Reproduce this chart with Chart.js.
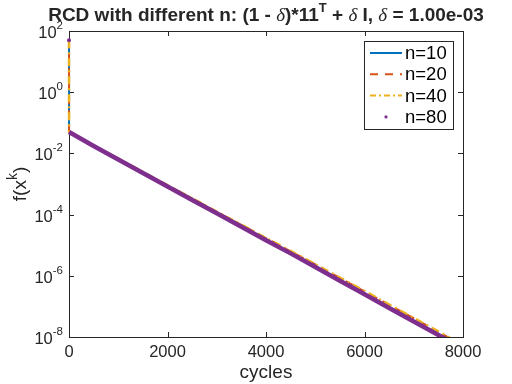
<!DOCTYPE html>
<html>
<head>
<meta charset="utf-8">
<script src="https://cdn.jsdelivr.net/npm/chart.js@4"></script>
<style>
  html, body { margin: 0; padding: 0; background: #fff; }
</style>
</head>
<body>
<canvas id="chart" width="512" height="384"></canvas>
<script>
// cycle positions shared by every run (first point is the starting value)
const cycles = [0, 1, 500, 1000, 1500, 2000, 2500, 3000, 3500, 4000, 4500, 5000, 5500, 6000, 6500, 7000, 7500, 7800];

const n10 = [50, 5.0e-2, 1.72e-2, 6.2e-3, 2.25e-3, 8.1e-4, 2.95e-4, 1.08e-4, 3.9e-5, 1.42e-5, 5.3e-6, 1.92e-6, 6.8e-7, 2.45e-7, 8.8e-8, 3.2e-8, 1.18e-8, 5.8e-9];
const n20 = [50, 5.0e-2, 1.82e-2, 6.8e-3, 2.45e-3, 9.1e-4, 3.4e-4, 1.23e-4, 4.6e-5, 1.7e-5, 6.3e-6, 2.35e-6, 8.5e-7, 3.1e-7, 1.12e-7, 4.1e-8, 1.48e-8, 7.9e-9];
const n40 = [50, 5.0e-2, 1.80e-2, 6.7e-3, 2.5e-3, 9.0e-4, 3.45e-4, 1.25e-4, 4.7e-5, 1.72e-5, 6.5e-6, 2.4e-6, 8.7e-7, 3.2e-7, 1.15e-7, 4.2e-8, 1.52e-8, 8.2e-9];
const n80 = [50, 5.0e-2, 1.74e-2, 6.3e-3, 2.3e-3, 8.3e-4, 3.0e-4, 1.10e-4, 4.0e-5, 1.45e-5, 5.4e-6, 1.95e-6, 6.9e-7, 2.5e-7, 8.9e-8, 3.2e-8, 1.17e-8, 6.3e-9];

const seriesNames = ["n=10", "n=20", "n=40", "n=80"];
const xTicks = [0, 2000, 4000, 6000, 8000];
const yExponents = [2, 0, -2, -4, -6, -8];

const FONT = '"Liberation Sans", Arial, Helvetica, sans-serif';
const SERIF = '"Liberation Serif", "Times New Roman", serif';
const INK = "#262626";
const BLUE = "#0072BD", ORANGE = "#D95319", YELLOW = "#EDB120", PURPLE = "#7E2F8E";

function toPoints(vals) {
  return cycles.map((c, i) => ({ x: c, y: vals[i] }));
}

// draw a run of text pieces [text, font, dy] as one line
function drawPieces(ctx, pieces, x, y, align) {
  let total = 0;
  pieces.forEach(p => { ctx.font = p[1]; total += ctx.measureText(p[0]).width; });
  let cx = align === "center" ? x - total / 2 : align === "right" ? x - total : x;
  ctx.textAlign = "left";
  ctx.textBaseline = "alphabetic";
  pieces.forEach(p => {
    ctx.font = p[1];
    ctx.fillText(p[0], cx, y + (p[2] || 0));
    cx += ctx.measureText(p[0]).width;
  });
}

const matlabAxes = {
  id: "matlabAxes",
  beforeDatasetsDraw(chart) {
    const { ctx, chartArea: a, scales } = chart;
    ctx.save();
    ctx.strokeStyle = INK;
    ctx.lineWidth = 1;
    ctx.strokeRect(a.left + 0.5, a.top + 0.5, a.right - a.left, a.bottom - a.top);

    ctx.beginPath();
    xTicks.forEach(t => {
      const px = Math.round(scales.x.getPixelForValue(t)) + 0.5;
      ctx.moveTo(px, a.bottom); ctx.lineTo(px, a.bottom - 5);
      ctx.moveTo(px, a.top); ctx.lineTo(px, a.top + 5);
    });
    yExponents.forEach(e => {
      const py = Math.round(scales.y.getPixelForValue(Math.pow(10, e))) + 0.5;
      ctx.moveTo(a.left, py); ctx.lineTo(a.left + 5, py);
      ctx.moveTo(a.right, py); ctx.lineTo(a.right - 5, py);
    });
    ctx.stroke();

    ctx.fillStyle = INK;
    ctx.font = "16.5px " + FONT;
    ctx.textAlign = "center";
    ctx.textBaseline = "alphabetic";
    xTicks.forEach(t => {
      ctx.fillText(String(t), scales.x.getPixelForValue(t), a.bottom + 20);
    });

    yExponents.forEach(e => {
      const py = scales.y.getPixelForValue(Math.pow(10, e));
      ctx.font = "11.5px " + FONT;
      ctx.textAlign = "right";
      ctx.fillText(String(e), a.left - 6, py - 2);
      const ew = ctx.measureText(String(e)).width;
      ctx.font = "16.5px " + FONT;
      ctx.fillText("10", a.left - 6 - ew, py + 7);
    });

    // axis labels
    ctx.font = "19px " + FONT;
    ctx.textAlign = "center";
    ctx.fillText("cycles", (a.left + a.right) / 2, 378);

    ctx.save();
    ctx.translate(26, (a.top + a.bottom) / 2);
    ctx.rotate(-Math.PI / 2);
    drawPieces(ctx, [["f(x", "19px " + FONT], ["k", "14px " + FONT, -9], [")", "19px " + FONT]], 0, 0, "center");
    ctx.restore();

    // title
    const B = "bold 19px " + FONT, D = "italic 19px " + SERIF, S = "bold 13px " + FONT;
    drawPieces(ctx, [
      ["RCD with different n: (1 - ", B], ["\u03b4", D], [")*11", B], ["T", S, -9],
      [" + ", B], ["\u03b4", D], [" I, ", B], ["\u03b4", D], [" = 1.00e-03", B]
    ], (a.left + a.right) / 2, 21, "center");
    ctx.restore();
  },
  afterDraw(chart) {
    const { ctx } = chart;
    const bx = 364, by = 41, bw = 89, bh = 88;
    ctx.save();
    ctx.fillStyle = "#fff";
    ctx.fillRect(bx, by, bw, bh);
    ctx.strokeStyle = INK;
    ctx.lineWidth = 1;
    ctx.strokeRect(bx + 0.5, by + 0.5, bw, bh);
    const styles = [
      { c: BLUE, dash: [] },
      { c: ORANGE, dash: [8, 7] },
      { c: YELLOW, dash: [6, 3, 2, 3] },
      { c: PURPLE, dot: true }
    ];
    seriesNames.forEach((name, i) => {
      const y = 53 + i * 21.3;
      const s = styles[i];
      if (s.dot) {
        ctx.fillStyle = s.c;
        ctx.beginPath();
        ctx.arc(386, y, 1.6, 0, Math.PI * 2);
        ctx.fill();
      } else {
        ctx.strokeStyle = s.c;
        ctx.lineWidth = 2;
        ctx.setLineDash(s.dash);
        ctx.beginPath();
        ctx.moveTo(370, y); ctx.lineTo(402, y);
        ctx.stroke();
        ctx.setLineDash([]);
      }
      ctx.fillStyle = "#000";
      ctx.font = "18.5px " + FONT;
      ctx.textAlign = "left";
      ctx.textBaseline = "middle";
      ctx.fillText(name, 405, y + 1);
    });
    ctx.restore();
  }
};

const clipBox = { left: 3, top: 3, right: 0, bottom: 0 };

new Chart(document.getElementById("chart"), {
  type: "line",
  data: {
    datasets: [
      { label: seriesNames[0], data: toPoints(n10), borderColor: BLUE, borderWidth: 2, pointRadius: 0, order: 4, clip: clipBox },
      { label: seriesNames[1], data: toPoints(n20), borderColor: ORANGE, borderWidth: 2, borderDash: [8, 6], pointRadius: 0, order: 3, clip: clipBox },
      { label: seriesNames[2], data: toPoints(n40), borderColor: YELLOW, borderWidth: 2.5, borderDash: [8, 4, 2, 4], pointRadius: 0, order: 2, clip: clipBox },
      {
        label: seriesNames[3], data: toPoints(n80), borderColor: PURPLE, borderWidth: 4.5, order: 1, clip: clipBox,
        pointRadius: cycles.map((c, i) => (i === 0 ? 2 : 0)),
        pointBackgroundColor: PURPLE, pointBorderWidth: 0,
        segment: { borderColor: s => (s.p0DataIndex === 0 ? "rgba(0,0,0,0)" : undefined) }
      }
    ]
  },
  options: {
    responsive: false,
    animation: false,
    layout: { padding: { left: 69, right: 49, top: 31, bottom: 47 } },
    scales: {
      x: { type: "linear", min: 0, max: 8000, display: false },
      y: { type: "logarithmic", min: 1e-8, max: 1e2, display: false }
    },
    plugins: { legend: { display: false }, title: { display: false }, tooltip: { enabled: false } }
  },
  plugins: [matlabAxes]
});
</script>
</body>
</html>
